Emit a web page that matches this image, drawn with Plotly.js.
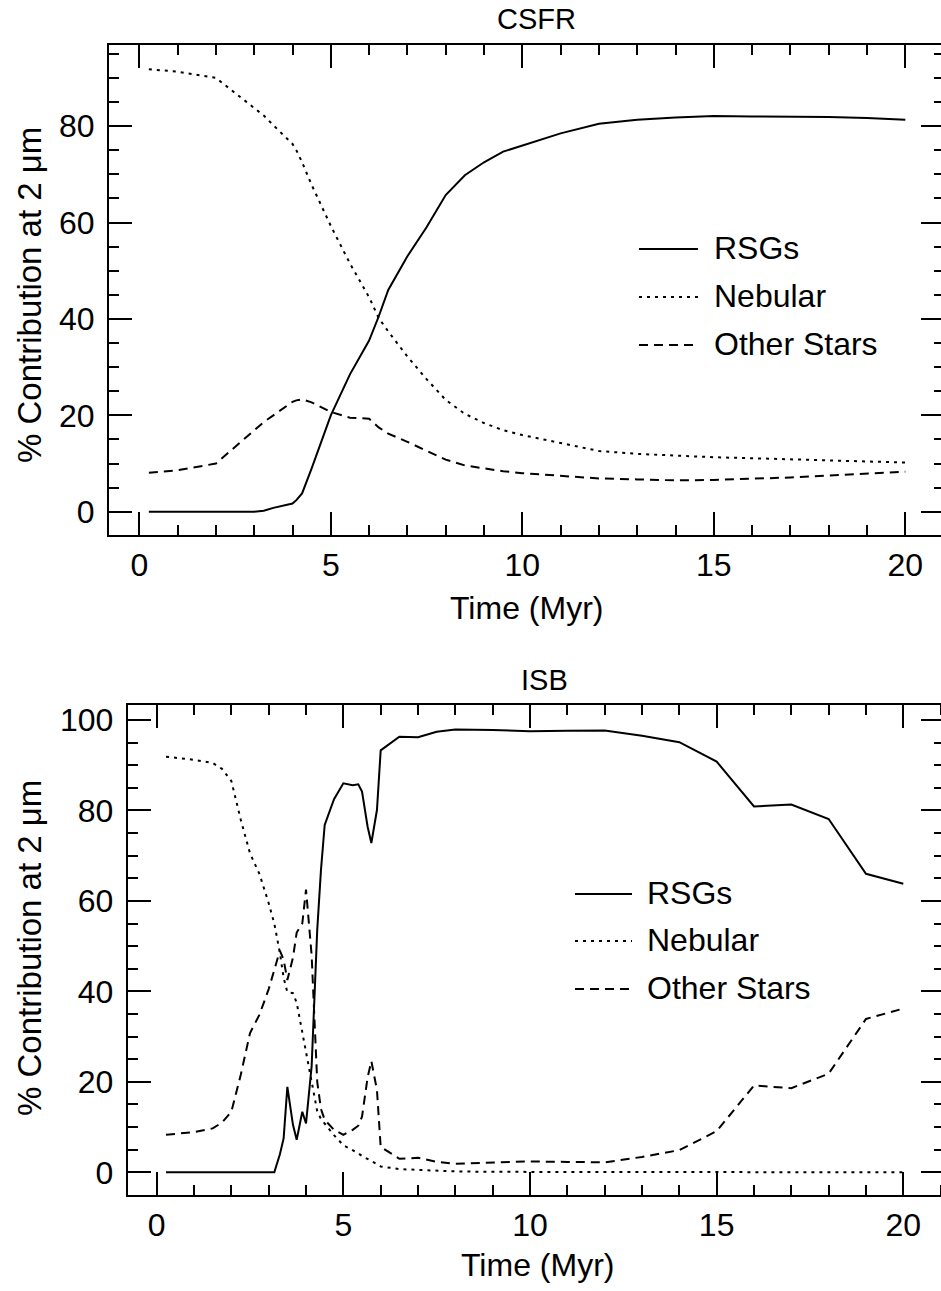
<!DOCTYPE html>
<html><head><meta charset="utf-8">
<script src="https://cdn.plot.ly/plotly-3.0.1.min.js"></script>
<style>html,body{margin:0;padding:0;overflow:hidden;background:#fff}</style>
</head><body><div id="chart"></div>
<script>
// ---------- data ----------
const seriesNames = ['RSGs', 'Nebular', 'Other Stars'];
const panelTitles = ['CSFR', 'ISB'];
const xTitle = 'Time (Myr)';
const yTitle = '% Contribution at 2 μm';

const csfrTime  = [0.25, 1, 2, 3, 3.25, 3.5, 4, 4.1, 4.25, 4.5, 5, 5.5, 6, 6.25, 6.5, 7, 7.5, 8, 8.5, 9, 9.5, 10, 11, 12, 13, 14, 15, 16, 17, 18, 19, 20];
const csfrRSG   = [0, 0, 0, 0, 0.2, 0.8, 1.7, 2.4, 3.8, 9, 20, 28.5, 35.5, 40.5, 46, 53, 59, 65.7, 69.8, 72.5, 74.7, 76, 78.5, 80.5, 81.3, 81.8, 82.1, 82, 82, 81.9, 81.7, 81.3];
const csfrNeb   = [91.8, 91.3, 90, 83.8, 82.2, 80.2, 76.3, 75, 72.5, 67.8, 59.3, 51.5, 44.5, 40.2, 37.4, 32.2, 27.5, 23.2, 20.3, 18.4, 16.9, 15.9, 14.2, 12.6, 12.0, 11.6, 11.3, 11.1, 10.9, 10.6, 10.4, 10.2];
const csfrOther = [8.1, 8.6, 10, 17, 18.6, 20, 22.8, 23.1, 23.3, 22.7, 20.7, 19.5, 19.3, 17.5, 16.2, 14.5, 12.6, 10.8, 9.6, 9.0, 8.4, 8.0, 7.4, 6.9, 6.7, 6.5, 6.6, 6.8, 7.1, 7.5, 7.9, 8.3];

const isbTime  = [0.25, 1, 1.5, 1.75, 2, 2.25, 2.5, 2.75, 3, 3.15, 3.3, 3.4, 3.5, 3.65, 3.75, 3.9, 4.0, 4.15, 4.3, 4.4, 4.5, 4.75, 5, 5.25, 5.4, 5.5, 5.65, 5.75, 5.9, 6, 6.5, 7, 7.5, 8, 9, 10, 11, 12, 13, 14, 15, 16, 17, 18, 19, 20];
const isbRSG   = [0, 0, 0, 0, 0, 0, 0, 0, 0, 0, 4.0, 7.5, 18.9, 10.5, 7.2, 13.4, 10.8, 23.4, 53.6, 66.8, 76.8, 82.5, 86.0, 85.6, 85.8, 84.2, 76.4, 72.8, 80.1, 93.3, 96.3, 96.2, 97.4, 97.9, 97.8, 97.5, 97.6, 97.7, 96.5, 95.1, 90.8, 80.9, 81.3, 78.1, 66.0, 63.8];
const isbNeb   = [91.9, 91.2, 90.5, 89.2, 86.5, 78.0, 70.5, 66.0, 59.5, 55.0, 48.5, 43.0, 39.8, 39.6, 37.5, 31.0, 26.5, 20.0, 13.5, 11.8, 10.8, 8.2, 6.0, 4.9, 4.2, 3.6, 3.0, 2.5, 1.8, 1.3, 0.7, 0.5, 0.3, 0.2, 0.1, 0.1, 0.1, 0.1, 0.1, 0, 0, 0, 0, 0, 0, 0];
const isbOther = [8.3, 8.9, 9.7, 11.0, 13.4, 21.5, 30.8, 34.8, 40.5, 45.0, 49.0, 47.0, 42.5, 47.5, 53.0, 55.0, 62.5, 48.0, 20.0, 14.0, 11.6, 9.4, 8.3, 9.4, 10.3, 12.3, 21.0, 24.6, 18.2, 5.6, 3.0, 3.2, 2.3, 1.9, 2.1, 2.4, 2.3, 2.2, 3.4, 4.9, 9.1, 19.2, 18.6, 21.8, 33.9, 36.2];

// ---------- styling ----------
const W = 944, H = 1291;
const FONT = 'Liberation Sans, Arial, Helvetica, sans-serif';
const dashes = ['solid', '3px,5px', '9px,6px'];
const px = v => v / W;
const py = v => 1 - v / H;

const traces = [];
function addPanel(t, ys, xa, ya) {
  ys.forEach((y, i) => traces.push({
    type: 'scatter', mode: 'lines', x: t, y: y, xaxis: xa, yaxis: ya,
    name: seriesNames[i], showlegend: false, hoverinfo: 'skip',
    line: {color: '#000', width: 2, dash: dashes[i]}
  }));
}
addPanel(csfrTime, [csfrRSG, csfrNeb, csfrOther], 'x', 'y');
addPanel(isbTime, [isbRSG, isbNeb, isbOther], 'x2', 'y2');

function axisBase(dtick, minorDtick) {
  return {
    showline: true, linecolor: '#000', linewidth: 2, mirror: 'ticks',
    ticks: 'inside', ticklen: 23, tickwidth: 2, tickcolor: '#000',
    tickmode: 'linear', tick0: 0, dtick: dtick,
    minor: {ticks: 'inside', ticklen: 10, tickwidth: 2, tickcolor: '#000', dtick: minorDtick, tick0: 0, showgrid: false},
    showgrid: false, zeroline: false, fixedrange: true,
    tickfont: {family: FONT, size: 32, color: '#000'}
  };
}

const layout = {
  width: W, height: H,
  margin: {l: 0, r: 0, t: 0, b: 0, pad: 0},
  paper_bgcolor: '#fff', plot_bgcolor: '#fff',
  showlegend: false,
  font: {family: FONT, color: '#000'},
  xaxis: Object.assign(axisBase(5, 1), {domain: [px(109), 1], range: [-0.791, 21.01], anchor: 'y', ticklabelstandoff: 1}),
  yaxis: Object.assign(axisBase(20, 5), {domain: [py(535), py(45)], range: [-4.83, 96.83], anchor: 'x', ticklabelstandoff: 6}),
  xaxis2: Object.assign(axisBase(5, 1), {domain: [px(127.7), 1], range: [-0.777, 21.09], anchor: 'y2', ticklabelstandoff: 1}),
  yaxis2: Object.assign(axisBase(20, 5), {domain: [py(1195), py(705)], range: [-5.02, 103.32], anchor: 'x2', ticklabelstandoff: 6}),
  shapes: [],
  annotations: []
};

function textAnn(text, x, y, size, angle, xanchor) {
  layout.annotations.push({
    text: text, xref: 'paper', yref: 'paper', x: px(x), y: py(y),
    xanchor: xanchor || 'center', yanchor: 'middle', showarrow: false,
    textangle: angle || 0, font: {family: FONT, size: size, color: '#000'}
  });
}
// panel titles
textAnn(panelTitles[0], 536, 19, 29);
textAnn(panelTitles[1], 544, 680, 29);
// axis titles
textAnn(xTitle, 526, 608, 32);
textAnn(xTitle, 537, 1265, 32);
textAnn(yTitle, 29, 295, 33, -90);
textAnn(yTitle, 29, 948, 33, -90);

// legends (key: sample line + label)
function legend(x0, x1, xText, rows) {
  seriesNames.forEach((n, i) => {
    layout.shapes.push({type: 'line', xref: 'paper', yref: 'paper',
      x0: px(x0), x1: px(x1), y0: py(rows[i] + 1), y1: py(rows[i] + 1),
      line: {color: '#000', width: 2, dash: dashes[i]}});
    textAnn(n, xText, rows[i], 32, 0, 'left');
  });
}
legend(639, 698, 712, [248, 296, 344]);
legend(575, 632, 645, [893, 940, 988]);

Plotly.newPlot('chart', traces, layout, {staticPlot: true, displayModeBar: false});
</script></body></html>
